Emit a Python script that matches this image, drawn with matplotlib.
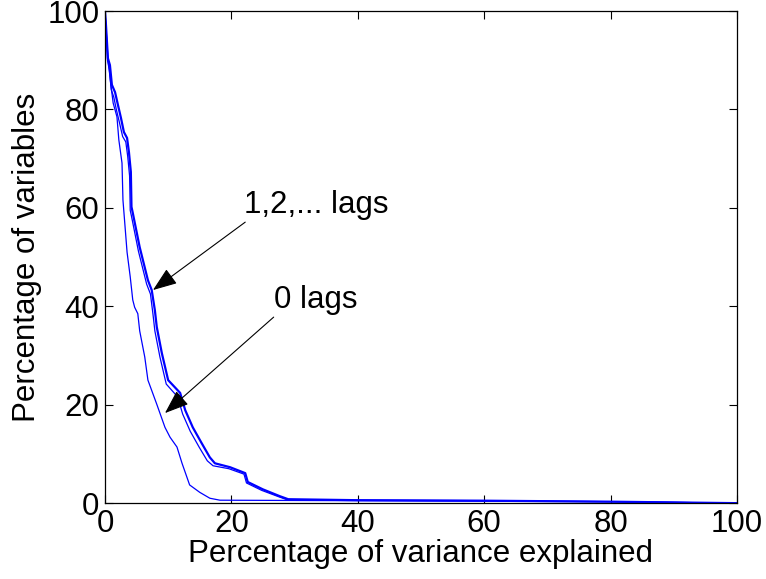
import matplotlib
matplotlib.use("Agg")
import matplotlib.pyplot as plt

# curve for 1,2,... lags (thick)
lags_x = [0, 0.16, 0.47, 0.79, 1.1, 1.6, 2.06, 2.53, 3.0, 3.5, 3.8, 4.1, 4.2, 4.4, 5.5, 6.8,
          7.4, 7.9, 8.2, 9.0, 10.0, 11.9, 12.7, 13.9, 15.3, 16.6, 17.4, 19.8, 22.2, 22.6, 25.0,
          27.7, 29.0, 40, 60, 80, 100]
lags_y = [100, 97.2, 90.4, 89.0, 85.0, 83.5, 80.9, 78.3, 75.4, 74.2, 71.3, 67.3, 60.2, 59.0, 52.0, 45.3,
          43.3, 39.2, 35.8, 30.5, 25.0, 22.4, 18.9, 15.4, 12.2, 9.3, 8.1, 7.3, 6.1, 4.3, 2.8,
          1.4, 0.8, 0.6, 0.5, 0.3, 0.0]

# second curve for 1,2,... lags (thin, nearly on top of the thick one)
lags2_x = [0, 0.16, 0.4, 0.7, 1.0, 1.4, 1.8, 2.3, 2.8, 3.3, 3.6, 3.9, 4.0, 4.2, 5.3, 6.6,
           7.2, 7.6, 7.9, 8.7, 9.7, 11.5, 12.3, 13.5, 14.9, 16.2, 17.1, 19.6, 22.0, 22.4, 24.8,
           27.5, 28.8, 40, 60, 80, 100]
lags2_y = [100, 97.0, 90.0, 88.0, 84.0, 82.5, 80.0, 77.3, 74.5, 73.4, 70.5, 66.5, 59.5, 58.3, 51.2, 44.5,
           42.5, 38.4, 35.0, 29.7, 24.2, 21.6, 18.1, 14.6, 11.4, 8.6, 7.6, 7.0, 5.9, 4.1, 2.6,
           1.3, 0.7, 0.6, 0.5, 0.3, 0.0]

# curve for 0 lags
zero_x = [0, 0.5, 0.9, 1.3, 1.9, 2.2, 2.7, 2.85, 3.5, 4.0, 4.4, 4.7, 5.2, 5.5,
          6.3, 6.8, 8.2, 9.5, 10.3, 11.4, 12.2, 13.4, 15.0, 16.6, 18.2, 40, 60, 80, 100]
zero_y = [100, 90, 85.4, 81.3, 78.5, 73.8, 69.1, 61.6, 51.0, 46.0, 41.3, 39.8, 38.5, 35.0,
          29.7, 25.0, 20.1, 15.4, 13.4, 11.4, 8.1, 3.7, 2.2, 1.0, 0.6, 0.5, 0.4, 0.3, 0.0]

plt.rcParams["font.family"] = ["Liberation Sans", "DejaVu Sans"]
FS = 22.5

fig = plt.figure(figsize=(7.66, 5.79), dpi=100)
ax = fig.add_axes([0.137, 0.131, 0.825, 0.850])

ax.plot(zero_x, zero_y, color="#0000ff", lw=0.9)
ax.plot(lags2_x, lags2_y, color="#0000ff", lw=0.9)
ax.plot(lags_x, lags_y, color="#0000ff", lw=1.6)

ax.set_xlim(0, 100)
ax.set_ylim(0, 100)
ax.set_xticks([0, 20, 40, 60, 80, 100])
ax.set_yticks([0, 20, 40, 60, 80, 100])
ax.tick_params(direction="in", length=6, width=0.8, top=True, right=True,
               labelsize=FS, pad=4)
for s in ax.spines.values():
    s.set_linewidth(0.9)

ax.set_xlabel("Percentage of variance explained", fontsize=FS, labelpad=0)
ax.set_ylabel("Percentage of variables", fontsize=FS, labelpad=4)

# text labels and arrows
ax.text(33.5, 60.6, "1,2,... lags", fontsize=FS, ha="center", va="center")
ax.text(33.4, 41.3, "0 lags", fontsize=FS, ha="center", va="center")
arrow = dict(arrowstyle="-|>,head_length=0.75,head_width=0.28", color="black", lw=0.8,
             shrinkA=0, shrinkB=0, mutation_scale=20)
ax.annotate("", xy=(7.6, 43.3), xytext=(22.2, 57.1), arrowprops=arrow)
ax.annotate("", xy=(9.5, 18.3), xytext=(26.7, 37.8), arrowprops=arrow)

fig.savefig("out.png", dpi=100)
